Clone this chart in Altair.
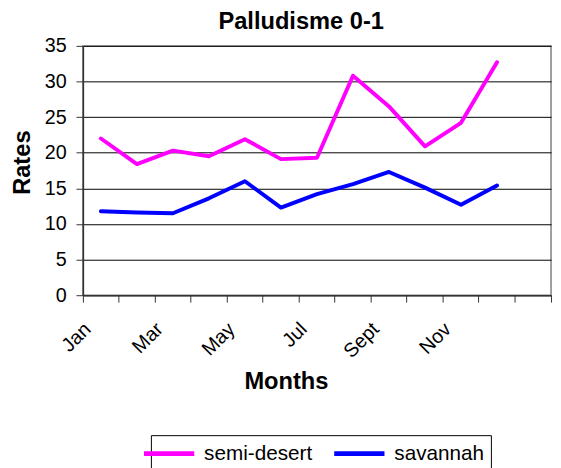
import altair as alt
import pandas as pd

months = ["Jan", "Feb", "Mar", "Apr", "May", "Jun", "Jul", "Aug", "Sept", "Oct", "Nov", "Dec"]
slots = months + [" "]
shown_labels = ["Jan", "Mar", "May", "Jul", "Sept", "Nov"]
series_names = ["semi-desert", "savannah"]
semi_desert = [22.0, 18.4, 20.3, 19.5, 21.9, 19.1, 19.3, 30.8, 26.5, 20.9, 24.2, 32.7]
savannah = [11.8, 11.6, 11.5, 13.6, 16.0, 12.3, 14.2, 15.6, 17.3, 15.1, 12.7, 15.4]
colors = ["#FF00FF", "#0000FF"]

rows = []
for name, vals in zip(series_names, [semi_desert, savannah]):
    for m, v in zip(months, vals):
        rows.append({"Month": m, "Rate": v, "Series": name})
df = pd.DataFrame(rows)

W, H = 475, 253
band = W / len(slots)
label_list = "[" + ",".join("'" + s + "'" for s in shown_labels) + "]"

chart = alt.Chart(df).mark_line(strokeWidth=4, strokeCap="round", strokeJoin="round").encode(
    x=alt.X(
        "Month:N",
        sort=slots,
        scale=alt.Scale(type="band", domain=slots, paddingInner=0, paddingOuter=0),
        axis=alt.Axis(
            title="Months",
            titleFontSize=24,
            titleFontWeight="bold",
            titleX=206,
            titleY=95,
            titleBaseline="alphabetic",
            titleAnchor="start",
            titleAlign="center",
            labelAngle=-45,
            labelAlign="right",
            labelBaseline="middle",
            labelFontSize=20,
            labelColor="black",
            labelPadding=24,
            labelOffset=-band / 2 + 5,
            labelOverlap=False,
            labelExpr="indexof(" + label_list + ", datum.value) >= 0 ? datum.value : ''",
            bandPosition=1,
            tickExtra=True,
            tickSize=7,
            tickColor="#333333",
            domainColor="#333333",
            domainWidth=1.5,
            grid=False,
        ),
    ),
    y=alt.Y(
        "Rate:Q",
        scale=alt.Scale(domain=[0, 35], nice=False, zero=True),
        axis=alt.Axis(
            title="Rates",
            titleFontSize=24,
            titleFontWeight="bold",
            titleAngle=270,
            titleX=-61,
            titleY=118,
            titleAlign="center",
            titleBaseline="middle",
            values=[0, 5, 10, 15, 20, 25, 30, 35],
            labelFontSize=20,
            labelColor="black",
            labelPadding=10,
            tickSize=7,
            tickColor="#333333",
            domainColor="#333333",
            domainWidth=1.5,
            grid=True,
            gridColor="#000000",
            gridWidth=1,
        ),
    ),
    color=alt.Color(
        "Series:N",
        scale=alt.Scale(domain=series_names, range=colors),
        sort=series_names,
        legend=alt.Legend(
            title=None,
            orient="none",
            legendX=69,
            legendY=395,
            direction="horizontal",
            symbolType="M-2.55,0H2.55",
            symbolStrokeWidth=5,
            symbolSize=400,
            labelFontSize=21,
            labelColor="black",
            labelOffset=23,
            columnPadding=12,
            padding=6,
            strokeColor="#000000",
            fillColor="#FFFFFF",
        ),
    ),
).properties(
    width=W,
    height=H,
    title=alt.TitleParams("Palludisme 0-1", fontSize=24, fontWeight="bold", anchor="middle", dx=-16, offset=2),
    autosize=alt.AutoSizeParams(type="none"),
    padding={"left": 76, "top": 35, "right": 2, "bottom": 180},
).configure(
    font="Liberation Sans",
).configure_view(
    stroke="#808080",
    strokeWidth=1.5,
)

chart.save("out.html", embed_options={"renderer": "svg", "actions": False})
